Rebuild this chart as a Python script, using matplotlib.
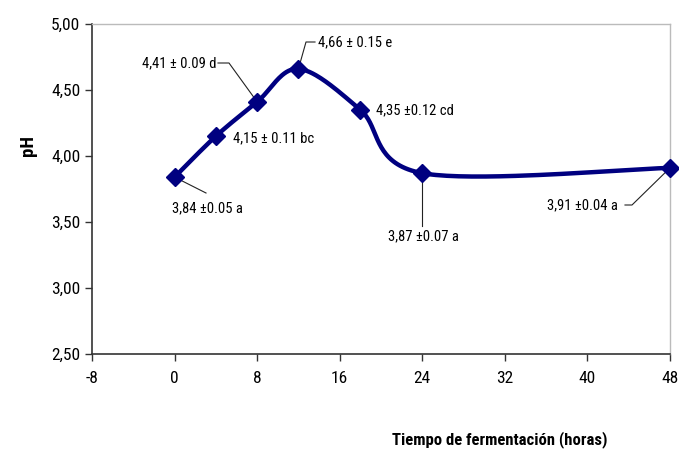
import numpy as np
import matplotlib
matplotlib.use("Agg")
import matplotlib.pyplot as plt
from matplotlib import font_manager as fm
from matplotlib.ticker import FuncFormatter

hours = [0, 4, 8, 12, 18, 24, 48]
ph = [3.84, 4.15, 4.41, 4.66, 4.35, 3.87, 3.91]
labels = ["3,84 ±0.05 a", "4,15 ± 0.11 bc", "4,41 ± 0.09 d", "4,66 ± 0.15 e",
          "4,35 ±0.12 cd", "3,87 ±0.07 a", "3,91 ±0.04 a"]
xticks = [-8, 0, 8, 16, 24, 32, 40, 48]
yticks = [2.5, 3.0, 3.5, 4.0, 4.5, 5.0]

avail = {f.name for f in fm.fontManager.ttflist}
font = "Liberation Sans"
for cand in ["Liberation Sans Narrow", "Arial Narrow", "Roboto Condensed", "Open Sans Condensed"]:
    if cand in avail:
        font = cand
        break
plt.rcParams['font.family'] = [font, 'DejaVu Sans']
plt.rcParams['axes.unicode_minus'] = False

fig = plt.figure(figsize=(6.79, 4.55), dpi=100)
ax = fig.add_axes([92/679, 1-354/455, 578/679, 330/455])

# Excel-like smoothing (Catmull-Rom Bezier)
def smooth(x, y, n=40):
    x = np.asarray(x, float); y = np.asarray(y, float)
    px = np.concatenate([[x[0]], x, [x[-1]]])
    py = np.concatenate([[y[0]], y, [y[-1]]])
    xs, ys = [], []
    for i in range(1, len(px) - 2):
        p0 = np.array([px[i-1], py[i-1]]); p1 = np.array([px[i], py[i]])
        p2 = np.array([px[i+1], py[i+1]]); p3 = np.array([px[i+2], py[i+2]])
        c1 = p1 + (p2 - p0) / 6
        c2 = p2 - (p3 - p1) / 6
        t = np.linspace(0, 1, n)[:, None]
        b = (1-t)**3*p1 + 3*(1-t)**2*t*c1 + 3*(1-t)*t**2*c2 + t**3*p2
        xs.extend(b[:, 0]); ys.extend(b[:, 1])
    return np.array(xs), np.array(ys)

sx, sy = smooth(hours, ph)
navy = "#000080"
ax.plot(sx, sy, color=navy, lw=3.2, solid_capstyle='round', zorder=3)
ax.plot(hours, ph, linestyle='none', marker='D', ms=9, color=navy, zorder=4, clip_on=False)

ax.set_xlim(-8, 48)
ax.set_ylim(2.5, 5.0)
ax.set_xticks(xticks)
ax.set_yticks(yticks)
ax.yaxis.set_major_formatter(FuncFormatter(lambda v, p: f"{v:.2f}".replace(".", ",")))
ax.tick_params(axis='both', labelsize=12.5, length=5, width=1, color="#333333", direction='out')
ax.tick_params(axis='x', pad=7)
for s in ['left', 'bottom']:
    ax.spines[s].set_color("#333333"); ax.spines[s].set_linewidth(1.2)
for s in ['top', 'right']:
    ax.spines[s].set_color("#bbbbbb"); ax.spines[s].set_linewidth(1.0)

fs = 10.5
lc = "#222222"
def ann(i, tx, ty, ha, path=None):
    ax.text(tx, ty, labels[i], fontsize=fs, ha=ha, va='center', transform=ax.transData)
    if path is not None:
        px = [p[0] for p in path]; py = [p[1] for p in path]
        ax.plot(px, py, color=lc, lw=0.8, zorder=2, clip_on=False)

# data-coordinate positions for labels (x in hours, y in pH)
def X(pxl): return -8 + (pxl - 92) / (578/56)
def Y(pyl): return 5.0 - (pyl - 24) / 132

ann(0, X(172), Y(208), 'left', [(hours[0], ph[0]), (X(206), Y(193))])
ann(1, X(233), Y(138), 'left')
ann(2, X(216), Y(63), 'right', [(X(218), Y(63)), (X(229), Y(63)), (hours[2], ph[2])])
ann(3, X(318), Y(42), 'left', [(X(315), Y(42)), (X(306), Y(42)), (hours[3], ph[3])])
ann(4, X(376), Y(110), 'left')
ann(5, X(388), Y(236), 'left', [(hours[5], ph[5]), (hours[5], Y(226))])
ann(6, X(618), Y(205), 'right', [(X(625), Y(205)), (X(632), Y(205)), (hours[6], ph[6])])

fig.text(28/679, 1-145/455, "pH", rotation=90, ha='center', va='center', fontsize=13.5, fontweight='bold')
fig.text(500/679, 1-440/455, "Tiempo de fermentación (horas)", ha='center', va='center', fontsize=12, fontweight='bold')

fig.savefig("out.png", dpi=100)
